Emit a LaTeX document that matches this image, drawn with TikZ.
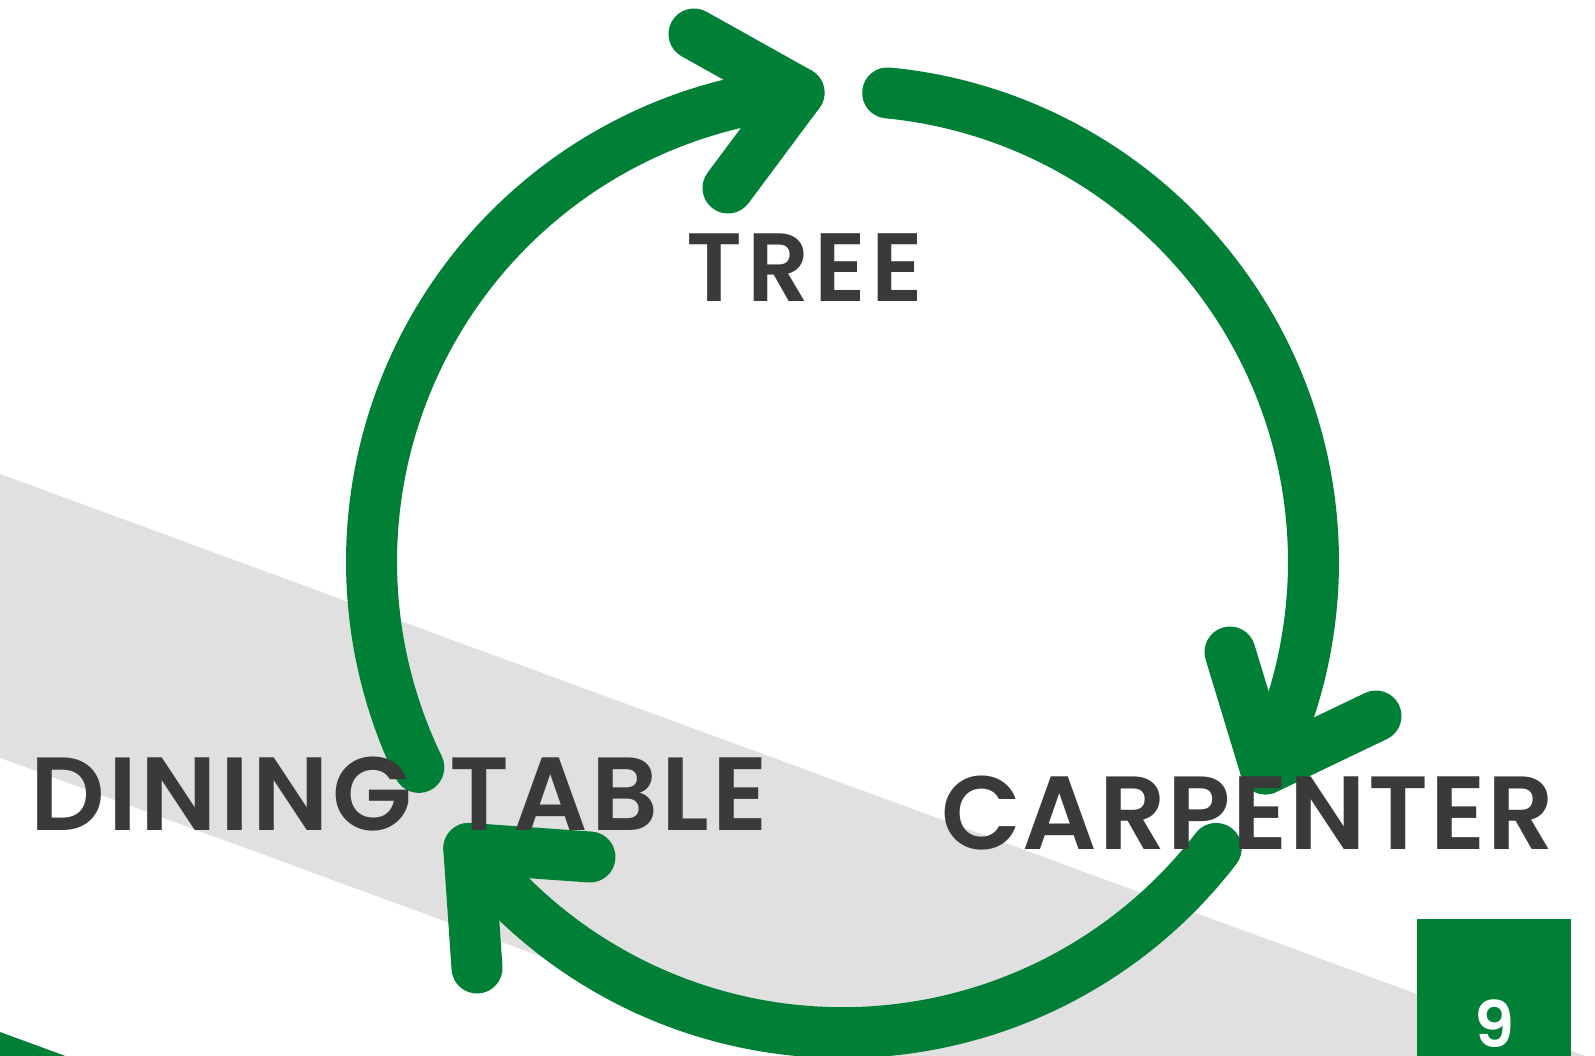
\documentclass[tikz,border=0pt]{standalone}
\usepackage{fontspec}
\newfontfamily\pop{Poppins}[UprightFont=* SemiBold, BoldFont=* SemiBold]
\definecolor{grn}{HTML}{008037}
\definecolor{txt}{HTML}{3A3A3A}
\definecolor{band}{HTML}{E0E0E0}
\begin{document}
\begin{tikzpicture}[x=1pt,y=-1pt,
  flow/.style={draw=grn,line width=51pt,line cap=round,line join=round},
  label/.style={inner sep=0pt,outer sep=0pt,anchor=base west,text=txt,font=\pop},
]
\useasboundingbox (0,0) rectangle (1595,1055);
\clip (0,0) rectangle (1595,1055);
\fill[white] (0,0) rectangle (1595,1055);
% grey band
\fill[band] (0,474) -- (1700,1098) -- (1700,1400) -- (0,1400) -- cycle;
\fill[white] (0,758) -- (1700,1382) -- (1700,1500) -- (0,1500) -- cycle;
% green band bottom-left
\fill[grn] (0,1032) -- (300,1142) -- (0,1142) -- cycle;
% green page box
\fill[grn] (1417,919) rectangle (1571,1060);
% centre of the cycle
\coordinate (c) at (842.5,561.7);
% arc 1 : dining table -> tree
\draw[flow] plot[domain=154.1:264.7,samples=120] ({842.5+471*cos(\x)},{561.7+471*sin(\x)});
\coordinate (t1) at (799.0,92.7);
\coordinate (w1a) at (694,34);
\coordinate (w1b) at (728,188);
\draw[flow] (w1a) -- (t1) -- (w1b);
% arc 2 : tree -> carpenter
\draw[flow] plot[domain=275.5:386.1,samples=120] ({842.5+471*cos(\x)},{561.7+471*sin(\x)});
\coordinate (t2) at (1265.5,768.9);
\coordinate (w2a) at (1230,652);
\coordinate (w2b) at (1376,716);
\draw[flow] (w2a) -- (t2) -- (w2b);
% arc 3 : carpenter -> dining table
\draw[flow] plot[domain=37.5:142.5,samples=120] ({842.5+471*cos(\x)},{561.7+471*sin(\x)});
\coordinate (t3) at (468.8,848.4);
\coordinate (w3a) at (590,857);
\coordinate (w3b) at (477,968);
\draw[flow] (w3a) -- (t3) -- (w3b);
% labels
\node[label,font=\pop\fontsize{97}{97}\selectfont] (tree) at (686,301)
  {\makebox[237pt]{T\hfill R\hfill E\hfill E}};
\node[label,font=\pop\fontsize{104}{104}\selectfont] (dining) at (30,830)
  {\makebox[738pt]{D\hfill I\hfill N\hfill I\hfill N\hfill G\hfill\kern34pt T\hfill A\hfill B\hfill L\hfill E}};
\node[label,font=\pop\fontsize{104}{104}\selectfont] (carp) at (941,849.5)
  {\makebox[613pt]{C\hfill A\hfill R\hfill P\hfill E\hfill N\hfill T\hfill E\hfill R}};
\node[inner sep=0pt,anchor=base,text=white,font=\pop\fontsize{64}{64}\selectfont] (page) at (1495,1047) {9};
\end{tikzpicture}
\end{document}
